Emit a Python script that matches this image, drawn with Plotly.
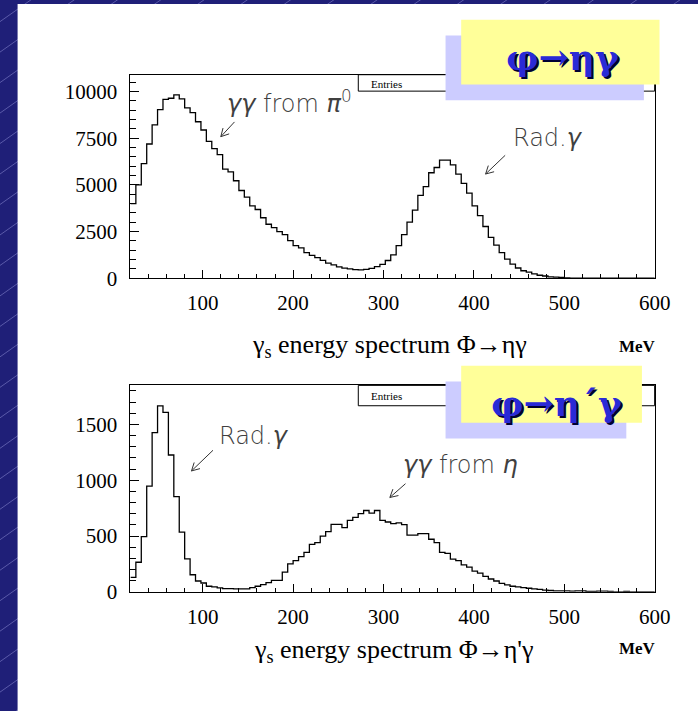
import numpy as np
import plotly.graph_objects as go

W, H = 698, 711

# ---------------- data ----------------
BIN_START = 20      # MeV
BIN_WIDTH = 6       # MeV

# phi -> eta gamma : photon energy spectrum (counts per bin)
eta_gamma_counts = [
    4000, 5000, 6140, 7190, 8210, 9030, 9575, 9640, 9820, 9610,
    9120, 8870, 8380, 7940, 7330, 6940, 6620, 5840, 5700, 5220,
    4700, 4340, 3870, 3680, 3240, 2890, 2710, 2500, 2330, 2010,
    1750, 1630, 1370, 1220, 1100, 960, 810, 720, 610, 540,
    500, 460, 445, 470, 530, 620, 740, 950, 1250, 1750,
    2330, 3000, 3650, 4440, 4910, 5650, 5930, 6330, 6330, 6070,
    5580, 5085, 4560, 3875, 3350, 2770, 2190, 1770, 1370, 1020,
    757, 547, 400, 330, 230, 160, 120, 70, 55, 40,
    15, 10, 5, 5, 0, 0, 0, 0, 0, 0,
    0, 0, 0, 0, 0, 0, 0,
]

# phi -> eta' gamma : photon energy spectrum (counts per bin)
etap_gamma_counts = [
    130, 265, 494, 947, 1426, 1667, 1609, 1226, 853, 535,
    295, 153, 97, 79, 50, 44, 35, 29, 29, 26,
    26, 26, 38, 50, 65, 82, 103, 103, 176, 250,
    279, 315, 353, 426, 441, 500, 540, 605, 605, 575,
    640, 668, 700, 729, 706, 729, 641, 626, 612, 618,
    603, 509, 509, 521, 521, 471, 441, 353, 344, 294,
    279, 241, 221, 185, 168, 138, 115, 97, 75, 62,
    50, 45, 38, 32, 26, 22, 15, 12, 9, 9,
    8, 6, 9, 9, 5, 3, 6, 6, 3, 0,
    0, 4, 0, 0, 0, 0, 0,
]

x_tick_vals = [100, 200, 300, 400, 500, 600]
x_tick_text = ["100", "200", "300", "400", "500", "600"]
top_y_tick_vals = [0, 2500, 5000, 7500, 10000]
top_y_tick_text = ["0", "2500", "5000", "7500", "10000"]
bot_y_tick_vals = [0, 500, 1000, 1500]
bot_y_tick_text = ["0", "500", "1000", "1500"]

top_title = "γ<sub>s</sub> energy spectrum Φ→ηγ"
bot_title = "γ<sub>s</sub> energy spectrum Φ→η'γ"
top_label = "φ→ηγ"
bot_label = "φ→η´γ"


# ---------------- helpers ----------------
def px(x):
    return x / W


def py(y):
    return 1 - y / H


def step(counts):
    edges = BIN_START + BIN_WIDTH * np.arange(len(counts) + 1)
    return edges, list(counts) + [counts[-1]]


SERIF = "Liberation Serif"
SANS = "DejaVu Sans"

fig = go.Figure()
for counts, xa, ya in [(eta_gamma_counts, "x", "y"), (etap_gamma_counts, "x2", "y2")]:
    ex, ey = step(counts)
    fig.add_trace(go.Scatter(
        x=ex, y=ey, mode="lines", xaxis=xa, yaxis=ya,
        line=dict(shape="hv", color="black", width=1.3),
        showlegend=False, hoverinfo="skip",
    ))

tickfont = dict(family=SERIF, size=21, color="black")
xcommon = dict(
    domain=[px(133.5), px(670)], range=[20, 600],
    tickvals=x_tick_vals, ticktext=x_tick_text,
    showline=True, linecolor="black", linewidth=1, mirror=True,
    showgrid=False, zeroline=False, ticks="inside", ticklen=8,
    tickcolor="black", tickwidth=1, tickfont=tickfont, ticklabelstandoff=6,
    minor=dict(dtick=20, tick0=0, ticklen=4, ticks="inside", tickcolor="black", showgrid=False),
)
ycommon = dict(
    showline=True, linecolor="black", linewidth=1, mirror=True,
    showgrid=False, zeroline=False, ticks="inside", ticklen=9,
    tickcolor="black", tickwidth=1, tickfont=tickfont, ticklabelstandoff=8,
)

fig.update_layout(
    width=W, height=H, margin=dict(l=0, r=0, t=0, b=0),
    paper_bgcolor="#1f1f78", plot_bgcolor="rgba(0,0,0,0)",
    xaxis=dict(**xcommon, anchor="y"),
    yaxis=dict(**ycommon, anchor="x", domain=[py(283), py(76)], range=[0, 10900],
               tickvals=top_y_tick_vals, ticktext=top_y_tick_text,
               minor=dict(dtick=500, tick0=0, ticklen=5.5, ticks="inside", tickcolor="black", showgrid=False)),
    xaxis2=dict(**xcommon, anchor="y2"),
    yaxis2=dict(**ycommon, anchor="x2", domain=[py(602), py(392)], range=[0, 1850],
                tickvals=bot_y_tick_vals, ticktext=bot_y_tick_text,
                minor=dict(dtick=100, tick0=0, ticklen=5.5, ticks="inside", tickcolor="black", showgrid=False)),
)

shapes = []
# background diagonal streaks
c = -40
while c < H + 0.7 * W + 40:
    shapes.append(dict(type="line", xref="paper", yref="paper", layer="below",
                       x0=px(0), y0=py(c), x1=px(W), y1=py(c - 0.7 * W),
                       line=dict(color="rgba(150,150,220,0.5)", width=1)))
    c += 31
# white panel
shapes.append(dict(type="rect", xref="paper", yref="paper", layer="below",
                   x0=px(18), y0=py(H + 200), x1=px(W + 200), y1=py(4),
                   fillcolor="white", line=dict(width=0)))

# "Entries" boxes
for (y0, y1) in [(76, 92.7), (392, 412.7)]:
    shapes.append(dict(type="rect", xref="paper", yref="paper", layer="above",
                       x0=px(366.7), y0=py(y1), x1=px(670), y1=py(y0),
                       line=dict(color="black", width=1), fillcolor="rgba(0,0,0,0)"))

# label boxes (shadow + yellow)
for (lx0, ly0, lx1, ly1) in [(472, 20, 675, 86), (472, 372, 657, 430)]:
    shapes.append(dict(type="rect", xref="paper", yref="paper", layer="above",
                       x0=px(lx0 - 16), y0=py(ly1 + 16), x1=px(lx1 - 16), y1=py(ly0 + 16),
                       fillcolor="#ccccff", line=dict(width=0)))
    shapes.append(dict(type="rect", xref="paper", yref="paper", layer="above",
                       x0=px(lx0), y0=py(ly1), x1=px(lx1), y1=py(ly0),
                       fillcolor="#ffff99", line=dict(width=0)))

# arrows (open heads)
arrows = [((240, 124), (226, 139)), ((517, 158), (497, 177)),
          ((218, 458), (196, 479)), ((415, 492), (399, 506))]
for (tx, ty), (hx, hy) in arrows:
    shapes.append(dict(type="line", xref="paper", yref="paper", layer="above",
                       x0=px(tx), y0=py(ty), x1=px(hx), y1=py(hy),
                       line=dict(color="#333333", width=1)))
    d = np.array([hx - tx, hy - ty], dtype=float)
    d /= np.linalg.norm(d)
    for ang in (0.5, -0.5):
        r = np.array([[np.cos(ang), -np.sin(ang)], [np.sin(ang), np.cos(ang)]])
        b = np.array([hx, hy]) - 9 * (r @ d)
        shapes.append(dict(type="line", xref="paper", yref="paper", layer="above",
                           x0=px(hx), y0=py(hy), x1=px(b[0]), y1=py(b[1]),
                           line=dict(color="#333333", width=1)))

fig.update_layout(shapes=shapes)

ann = []


def text(x, y, s, font, xanchor="center"):
    ann.append(dict(xref="paper", yref="paper", x=px(x), y=py(y), text=s,
                    showarrow=False, xanchor=xanchor, yanchor="middle", font=font))


note_font = dict(family=SANS, size=24, color="#404040", weight=300)
text(230, 104, "<i>γγ</i> from <i>π</i><sup>0</sup>", note_font, "left")
text(523, 140, "Rad.<i>γ</i>", note_font, "left")
text(222, 443, "Rad.<i>γ</i>", note_font, "left")
text(410, 473, "<i>γγ</i> from <i>η</i>", note_font, "left")

small = dict(family=SERIF, size=11, color="black")
text(378, 85, "Entries", small, "left")
text(378, 403, "Entries", small, "left")

title_font = dict(family=SERIF, size=26, color="black")
text(399, 352, top_title, title_font)
text(403, 662, bot_title, title_font)
mev_font = dict(family=SERIF, size=17, color="black", weight="bold")
text(652, 352, "MeV", mev_font)
text(652, 660, "MeV", mev_font)

label_font = dict(family="DejaVu Serif", size=36, color="#2a2ad6", weight="bold",
                  shadow="2px 2px 0px #000033")
text(576, 58, top_label, label_font)
text(570, 410, bot_label, label_font)

fig.update_layout(annotations=ann)
fig.write_html("out.html")
